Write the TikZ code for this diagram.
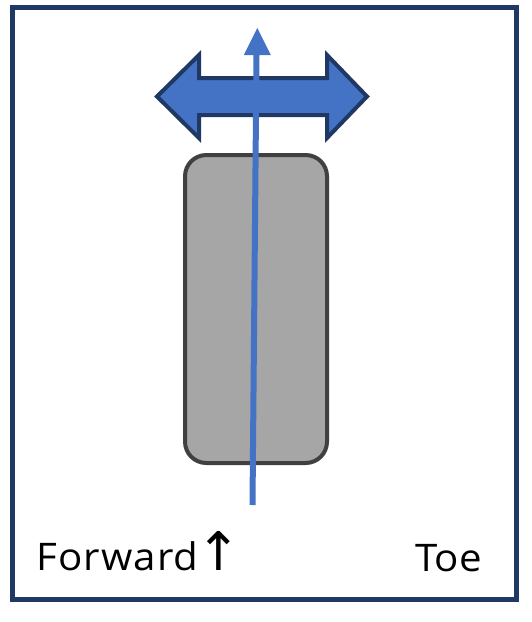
\documentclass[tikz,border=0pt]{standalone}
\usepackage{fontspec}
\setmainfont{Open Sans}[FakeStretch=1.06]
\newfontfamily\symfont{DejaVu Sans}
\definecolor{navy}{HTML}{1F3864}
\definecolor{tyregray}{HTML}{A6A6A6}
\definecolor{tyreedge}{HTML}{404040}
\definecolor{accblue}{HTML}{4472C4}
\tikzset{
  framebox/.style={draw=navy, line width=3.75pt},
  tyre/.style={draw=tyreedge, fill=tyregray, line width=3pt, rounded corners=16pt},
  dblarrow/.style={draw=navy, fill=accblue, line width=3pt, line join=miter},
  heading/.style={line width=4.5pt, draw=accblue},
  label/.style={anchor=base west, inner sep=0pt, font=\fontsize{28.5pt}{34pt}\selectfont},
}
\begin{document}
\begin{tikzpicture}[x=0.75pt, y=-0.75pt]
\useasboundingbox (0,0) rectangle (532,622);
\draw[framebox] (12.5,7.5) rectangle (516.7,599);
\draw[tyre] (185,155) rectangle (327,463);
% double arrow
\draw[dblarrow] (157,96.5) -- (199,55) -- (199,78) -- (327,78) -- (327,55) -- (367,96.5)
  -- (327,138) -- (327,115) -- (199,115) -- (199,138) -- cycle;
% heading line
\coordinate (hbot) at (252.5,505);
\coordinate (htop) at (256.5,55);
\coordinate (htip) at (257.3,28);
\draw[heading] (hbot) -- (htop);
\fill[accblue] (htip) -- (270.8,55) -- (243.8,55) -- cycle;
\node[label] (fwd) at (36,570.5) {{\addfontfeature{LetterSpace=3}Forward}\hspace{-2pt}{\symfont\fontsize{40pt}{40pt}\selectfont\char"2191}};
\node[label] (toe) at (415,571.5) {Toe};
\end{tikzpicture}
\end{document}
